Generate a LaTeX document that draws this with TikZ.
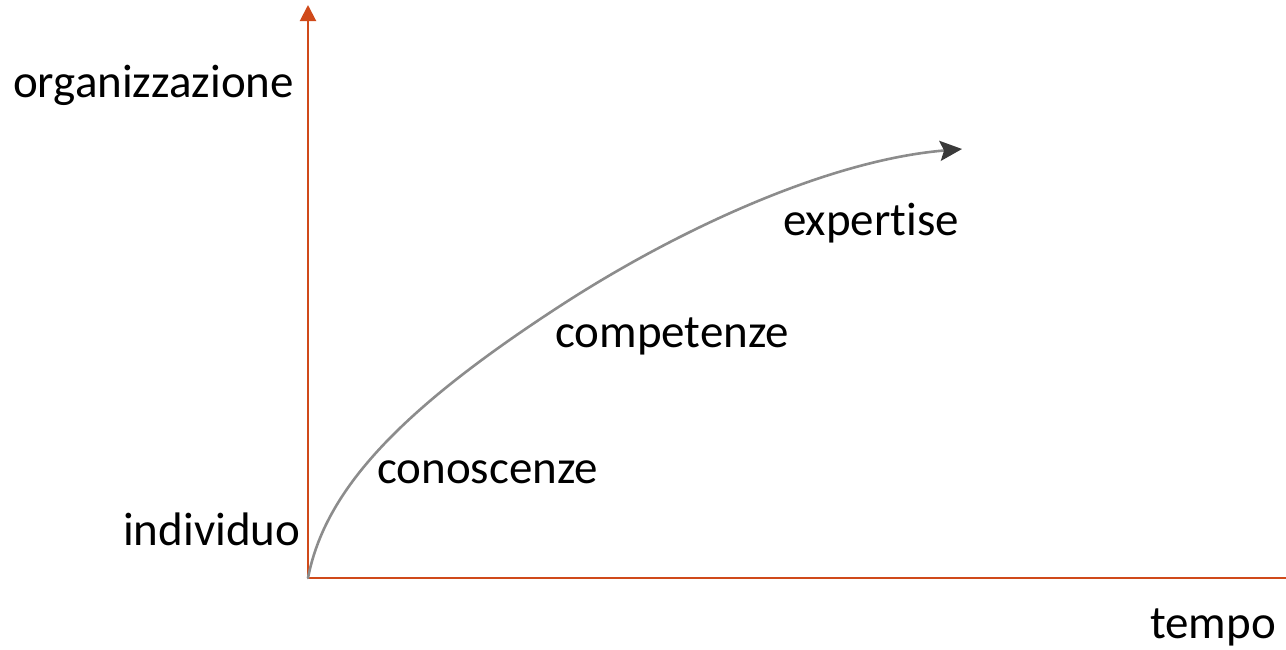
\documentclass[tikz,border=0pt]{standalone}
\usepackage{fontspec}
\setmainfont[Ligatures={NoCommon,NoDiscretionary,NoRare}]{Carlito}
\usetikzlibrary{arrows.meta}
\definecolor{axiscol}{HTML}{D04A1A}
\definecolor{curvecol}{HTML}{8C8C8C}
\definecolor{tipcol}{HTML}{3A3A3A}
\begin{document}
\begin{tikzpicture}[x=1pt,y=-1pt,
  lbl/.style={anchor=base west,inner sep=0pt,font=\fontsize{47}{56}\selectfont},
  axis/.style={draw=axiscol,line width=2pt},
  growth/.style={draw=curvecol,line width=2.6pt,line cap=round}]
\useasboundingbox (0,0) rectangle (1286,649);
\clip (0,0) rectangle (1286,649);
\coordinate (O) at (308,578);
\coordinate (Ytop) at (308,5);
\coordinate (Xend) at (1302,578);
\coordinate (mid) at (560,306);
\coordinate (cend) at (962,149);
\draw[axis,-{Triangle[length=16pt,width=16pt]}] (O) -- (Ytop);
\draw[axis,-{Triangle[length=16pt,width=16pt]}] (O) -- (Xend);
\draw[growth,-{Stealth[length=22pt,width=20pt,inset=4pt,color=tipcol,fill=tipcol]}]
  (O) .. controls (325,490) and (400,410) .. (mid)
      .. controls (680,228) and (830,160) .. (cend);
\node[lbl] (org) at (13,97) {organizzazione};
\node[lbl] (ind) at (123,545) {individuo};
\node[lbl] (con) at (377,483) {conoscenze};
\node[lbl] (com) at (555,347) {competenze};
\node[lbl] (exp) at (783,235) {expertise};
\node[lbl] (tem) at (1150,638) {tempo};
\end{tikzpicture}
\end{document}
